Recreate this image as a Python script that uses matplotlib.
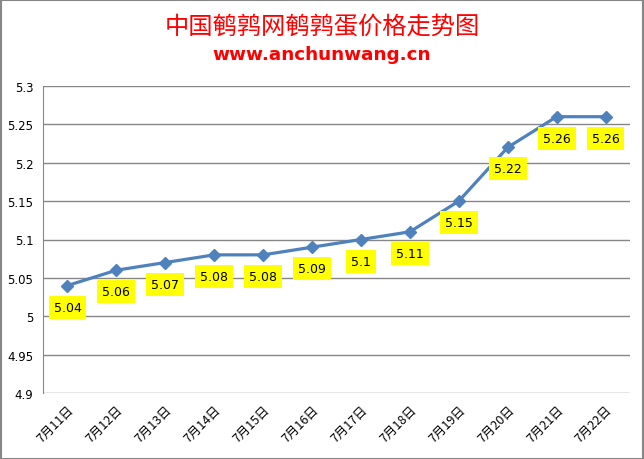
import matplotlib
matplotlib.use('Agg')
import matplotlib.pyplot as plt
import numpy as np

plt.rcParams['font.family'] = ['Noto Sans CJK SC', 'DejaVu Sans']

DATES = ['7月11日', '7月12日', '7月13日', '7月14日', '7月15日', '7月16日',
         '7月17日', '7月18日', '7月19日', '7月20日', '7月21日', '7月22日']
PRICE = [5.04, 5.06, 5.07, 5.08, 5.08, 5.09, 5.1, 5.11, 5.15, 5.22, 5.26, 5.26]
Y_TICKS = [4.9, 4.95, 5, 5.05, 5.1, 5.15, 5.2, 5.25, 5.3]
Y_LABELS = ['4.9', '4.95', '5', '5.05', '5.1', '5.15', '5.2', '5.25', '5.3']

fig = plt.figure(figsize=(6.44, 4.6), dpi=100)
ax = fig.add_axes([43/644, 1-394/460, 587/644, 307/460])

x = np.arange(len(DATES))
ax.plot(x, PRICE, color='#4F81BD', lw=2.3, marker='D', ms=6.5, zorder=3)

for xi, yi in zip(x, PRICE):
    ax.annotate(f'{yi:g}', (xi, yi), xytext=(0, -15.5), textcoords='offset points',
                ha='center', va='center', fontsize=9, family='DejaVu Sans',
                bbox=dict(boxstyle='square,pad=0.4', fc='#FFFF00', ec='none'))

ax.set_xlim(-0.5, len(DATES) - 0.5)
ax.set_ylim(4.9, 5.3)
ax.set_yticks(Y_TICKS)
ax.set_yticklabels(Y_LABELS, fontsize=8.5, family='DejaVu Sans')
ax.set_xticks(x)
ax.set_xticklabels(DATES, rotation=45, ha='right', rotation_mode='anchor', fontsize=9)
ax.tick_params(length=0, pad=7)
ax.grid(axis='y', color='#878787', lw=1)
for s in ['top', 'right', 'bottom']:
    ax.spines[s].set_visible(False)
ax.spines['left'].set_color('#878787')

fig.text(0.5, 1-27/460, '中国鹌鹑网鹌鹑蛋价格走势图', ha='center', va='center',
         color='#FF0000', fontsize=17.5, family=['Noto Sans CJK SC'])
fig.text(0.5, 1-55/460, 'www.anchunwang.cn', ha='center', va='center',
         color='#FF0000', fontsize=13.2, fontweight='bold', family='DejaVu Sans')

fig.patches.append(plt.Rectangle((0.001, 0.001), 0.997, 0.997, transform=fig.transFigure,
                                 fill=False, ec='#878787', lw=1.5))

fig.savefig('out.png', dpi=100)
